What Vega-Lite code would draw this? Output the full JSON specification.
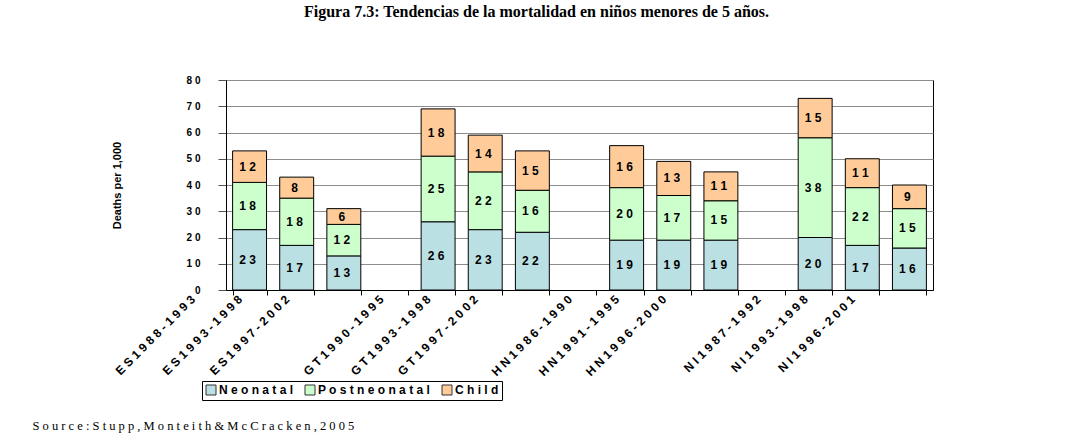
{
  "$schema": "https://vega.github.io/schema/vega-lite/v6.json",
  "width": 707,
  "height": 210,
  "autosize": "none",
  "padding": {"left": 226, "top": 80, "right": 141, "bottom": 149},
  "background": "white",
  "title": {
    "text": "Figura 7.3: Tendencias de la mortalidad en niños menores de 5 años.",
    "font": "Liberation Serif",
    "fontSize": 16,
    "fontWeight": "bold",
    "color": "black",
    "anchor": "middle",
    "frame": "group",
    "dx": -43,
    "offset": 42,
    "baseline": "alphabetic"
  },
  "datasets": {
    "mortality": [
      {"survey": "ES 1988-1993", "cause": "Neonatal", "value": 23},
      {"survey": "ES 1988-1993", "cause": "Postneonatal", "value": 18},
      {"survey": "ES 1988-1993", "cause": "Child", "value": 12},
      {"survey": "ES 1993-1998", "cause": "Neonatal", "value": 17},
      {"survey": "ES 1993-1998", "cause": "Postneonatal", "value": 18},
      {"survey": "ES 1993-1998", "cause": "Child", "value": 8},
      {"survey": "ES 1997-2002", "cause": "Neonatal", "value": 13},
      {"survey": "ES 1997-2002", "cause": "Postneonatal", "value": 12},
      {"survey": "ES 1997-2002", "cause": "Child", "value": 6},
      {"survey": "GT 1990-1995", "cause": "Neonatal", "value": 26},
      {"survey": "GT 1990-1995", "cause": "Postneonatal", "value": 25},
      {"survey": "GT 1990-1995", "cause": "Child", "value": 18},
      {"survey": "GT 1993-1998", "cause": "Neonatal", "value": 23},
      {"survey": "GT 1993-1998", "cause": "Postneonatal", "value": 22},
      {"survey": "GT 1993-1998", "cause": "Child", "value": 14},
      {"survey": "GT 1997-2002", "cause": "Neonatal", "value": 22},
      {"survey": "GT 1997-2002", "cause": "Postneonatal", "value": 16},
      {"survey": "GT 1997-2002", "cause": "Child", "value": 15},
      {"survey": "HN 1986-1990", "cause": "Neonatal", "value": 19},
      {"survey": "HN 1986-1990", "cause": "Postneonatal", "value": 20},
      {"survey": "HN 1986-1990", "cause": "Child", "value": 16},
      {"survey": "HN 1991-1995", "cause": "Neonatal", "value": 19},
      {"survey": "HN 1991-1995", "cause": "Postneonatal", "value": 17},
      {"survey": "HN 1991-1995", "cause": "Child", "value": 13},
      {"survey": "HN 1996-2000", "cause": "Neonatal", "value": 19},
      {"survey": "HN 1996-2000", "cause": "Postneonatal", "value": 15},
      {"survey": "HN 1996-2000", "cause": "Child", "value": 11},
      {"survey": "NI 1987-1992", "cause": "Neonatal", "value": 20},
      {"survey": "NI 1987-1992", "cause": "Postneonatal", "value": 38},
      {"survey": "NI 1987-1992", "cause": "Child", "value": 15},
      {"survey": "NI 1993-1998", "cause": "Neonatal", "value": 17},
      {"survey": "NI 1993-1998", "cause": "Postneonatal", "value": 22},
      {"survey": "NI 1993-1998", "cause": "Child", "value": 11},
      {"survey": "NI 1996-2001", "cause": "Neonatal", "value": 16},
      {"survey": "NI 1996-2001", "cause": "Postneonatal", "value": 15},
      {"survey": "NI 1996-2001", "cause": "Child", "value": 9}
    ],
    "components": [
      {"cause": "Neonatal", "stackOrder": 1},
      {"cause": "Postneonatal", "stackOrder": 2},
      {"cause": "Child", "stackOrder": 3}
    ]
  },
  "data": {"name": "mortality"},
  "transform": [
    {
      "lookup": "cause",
      "from": {"data": {"name": "components"}, "key": "cause", "fields": ["stackOrder"]}
    }
  ],
  "encoding": {
    "x": {
      "field": "survey",
      "type": "nominal",
      "sort": null,
      "scale": {
        "domain": ["ES 1988-1993", "ES 1993-1998", "ES 1997-2002", " ", "GT 1990-1995", "GT 1993-1998", "GT 1997-2002", "  ", "HN 1986-1990", "HN 1991-1995", "HN 1996-2000", "   ", "NI 1987-1992", "NI 1993-1998", "NI 1996-2001"],
        "paddingInner": 0.28,
        "paddingOuter": 0.14
      },
      "axis": {
        "title": "S o u r c e : S t u p p , M o n t e i t h & M c C r a c k e n , 2 0 0 5",
        "titleFont": "Liberation Serif",
        "titleFontSize": 12.5,
        "titleFontWeight": "normal",
        "titleColor": "black",
        "titleX": -194,
        "titleY": 135,
        "titleAlign": "left",
        "titleBaseline": "middle",
        "labelAngle": -45,
        "labelAlign": "right",
        "labelBaseline": "middle",
        "labelOffset": -57,
        "labelPadding": 2,
        "labelOverlap": false,
        "labelFont": "Liberation Sans",
        "labelFontWeight": "bold",
        "labelFontSize": 12,
        "labelColor": "black",
        "labelExpr": "join(split(datum.label, ''), ' ')",
        "tickBand": "extent",
        "tickSize": 5,
        "tickColor": "black",
        "domainColor": "black",
        "grid": false
      }
    },
    "y": {
      "field": "value",
      "type": "quantitative",
      "stack": "zero",
      "title": "Deaths per 1,000",
      "scale": {"domain": [0, 80], "nice": false},
      "axis": {
        "values": [0, 10, 20, 30, 40, 50, 60, 70, 80],
        "labelOverlap": false,
        "grid": true,
        "gridColor": "#8c8c8c",
        "gridWidth": 1,
        "tickSize": 8,
        "tickColor": "#555555",
        "domainColor": "black",
        "labelPadding": 18,
        "labelFont": "Liberation Sans",
        "labelFontWeight": "bold",
        "labelFontSize": 10,
        "labelColor": "black",
        "labelExpr": "datum.value == 0 ? '0' : join(split(datum.label, ''), ' ')",
        "titleFont": "Liberation Sans",
        "titleFontWeight": "bold",
        "titleFontSize": 11,
        "titleColor": "black",
        "titleX": -109,
        "titleY": 105,
        "titleAngle": -90,
        "titleAlign": "center",
        "titleBaseline": "middle"
      }
    },
    "order": {"field": "stackOrder", "type": "quantitative", "sort": "ascending"}
  },
  "layer": [
    {
      "mark": {"type": "bar", "stroke": "black", "strokeWidth": 1},
      "encoding": {
        "color": {
          "field": "cause",
          "type": "nominal",
          "scale": {
            "domain": ["Neonatal", "Postneonatal", "Child"],
            "range": ["#BBE0E3", "#CCFFCC", "#FFCC99"]
          },
          "legend": {
            "orient": "none",
            "legendX": -24,
            "legendY": 301,
            "direction": "horizontal",
            "title": null,
            "strokeColor": "black",
            "fillColor": "white",
            "padding": 3,
            "symbolType": "square",
            "symbolSize": 100,
            "symbolStrokeColor": "#333333",
            "symbolStrokeWidth": 1,
            "symbolOpacity": 1,
            "labelFont": "Liberation Sans",
            "labelFontWeight": "bold",
            "labelFontSize": 12,
            "labelColor": "black",
            "labelOffset": 2,
            "columnPadding": 9,
            "labelExpr": "join(split(datum.label, ''), ' ')"
          }
        }
      }
    },
    {
      "mark": {
        "type": "text",
        "font": "Liberation Sans",
        "fontWeight": "bold",
        "fontSize": 12,
        "fill": "black",
        "dx": -2,
        "text": {"expr": "join(split(toString(datum.value), ''), ' ')"}
      },
      "encoding": {
        "y": {
          "field": "value",
          "type": "quantitative",
          "stack": "zero",
          "bandPosition": 0.5,
          "title": "Deaths per 1,000",
          "scale": {"domain": [0, 80], "nice": false},
          "axis": {
            "values": [0, 10, 20, 30, 40, 50, 60, 70, 80],
            "labelOverlap": false,
            "grid": true,
            "gridColor": "#8c8c8c",
            "gridWidth": 1,
            "tickSize": 8,
            "tickColor": "#555555",
            "domainColor": "black",
            "labelPadding": 18,
            "labelFont": "Liberation Sans",
            "labelFontWeight": "bold",
            "labelFontSize": 10,
            "labelColor": "black",
            "labelExpr": "datum.value == 0 ? '0' : join(split(datum.label, ''), ' ')",
            "titleFont": "Liberation Sans",
            "titleFontWeight": "bold",
            "titleFontSize": 11,
            "titleColor": "black",
            "titleX": -109,
            "titleY": 105,
            "titleAngle": -90,
            "titleAlign": "center",
            "titleBaseline": "middle"
          }
        },
        "detail": {"field": "cause", "type": "nominal"}
      }
    }
  ],
  "config": {
    "view": {"stroke": "black", "strokeWidth": 1}
  }
}
